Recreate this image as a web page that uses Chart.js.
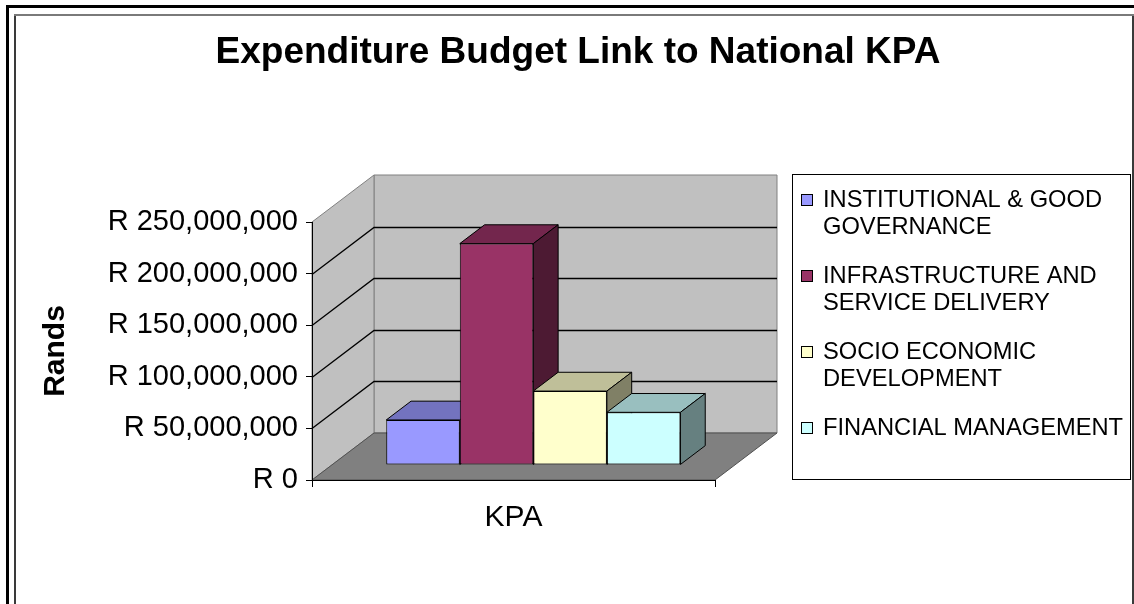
<!DOCTYPE html>
<html>
<head>
<meta charset="utf-8">
<script src="https://cdn.jsdelivr.net/npm/chart.js@4/dist/chart.umd.min.js"></script>
<style>
    html, body { margin: 0; padding: 0; background: #fff; }
</style>
</head>
<body>
<canvas id="kpaChart" width="1134" height="604"></canvas>
<script>
const chartTitle = 'Expenditure Budget Link to National KPA';
const categories = ['KPA'];
const kpaNames = [
    'INSTITUTIONAL & GOOD GOVERNANCE',
    'INFRASTRUCTURE AND SERVICE DELIVERY',
    'SOCIO ECONOMIC DEVELOPMENT',
    'FINANCIAL MANAGEMENT'
];
const kpaBudget = [43600000, 214500000, 71600000, 51000000];
const yTicks = [0, 50000000, 100000000, 150000000, 200000000, 250000000];

const barColors = ['#9999FF', '#993366', '#FFFFCC', '#CCFFFF'];
const FONT = "'Liberation Sans', Arial, sans-serif";

// depth of the 3D box and where the bars sit inside it
const DX = 62, DY = 47;
const D_FRONT = 0.32, D_BACK = 0.72;

Chart.defaults.font.family = FONT;
Chart.defaults.color = '#000';

function shade(hex, f) {
    const n = parseInt(hex.slice(1), 16);
    const r = Math.round(((n >> 16) & 255) * f);
    const g = Math.round(((n >> 8) & 255) * f);
    const b = Math.round((n & 255) * f);
    return `rgb(${r},${g},${b})`;
}

function poly(ctx, pts, fill, stroke) {
    ctx.beginPath();
    ctx.moveTo(pts[0][0], pts[0][1]);
    for (let i = 1; i < pts.length; i++) ctx.lineTo(pts[i][0], pts[i][1]);
    ctx.closePath();
    if (fill) { ctx.fillStyle = fill; ctx.fill(); }
    if (stroke) { ctx.strokeStyle = stroke; ctx.lineWidth = 1; ctx.stroke(); }
}

// walls, floor and gridlines behind everything
const wallsPlugin = {
    id: 'walls3d',
    beforeDraw(chart) {
        const ctx = chart.ctx;
        const { left, right, top, bottom } = chart.chartArea;
        const ys = chart.scales.y;
        ctx.save();
        poly(ctx, [[left + DX, top - DY], [right + DX, top - DY], [right + DX, bottom - DY], [left + DX, bottom - DY]], '#C0C0C0', '#808080');
        poly(ctx, [[left, bottom], [left, top], [left + DX, top - DY], [left + DX, bottom - DY]], '#C0C0C0', '#808080');
        poly(ctx, [[left, bottom], [right, bottom], [right + DX, bottom - DY], [left + DX, bottom - DY]], '#808080', '#505050');
        ctx.strokeStyle = '#000';
        ctx.lineWidth = 1.3;
        yTicks.slice(1, -1).forEach(v => {
            const py = Math.round(ys.getPixelForValue(v)) + 0.5;
            ctx.beginPath();
            ctx.moveTo(left, py);
            ctx.lineTo(left + DX, py - DY);
            ctx.lineTo(right + DX, py - DY);
            ctx.stroke();
        });
        ctx.restore();
    }
};

// bars as 3D boxes, left to right, using the element geometry from Chart.js
const barsPlugin = {
    id: 'bars3d',
    beforeDatasetsDraw(chart) {
        const ctx = chart.ctx;
        const fx = DX * D_FRONT, fy = -DY * D_FRONT;
        const bx = DX * D_BACK, by = -DY * D_BACK;
        ctx.save();
        ctx.lineJoin = 'round';
        chart.data.datasets.forEach((ds, i) => {
            const bar = chart.getDatasetMeta(i).data[0];
            const x0 = bar.x - bar.width / 2, x1 = bar.x + bar.width / 2;
            const yt = bar.y, yb = bar.base;
            ctx.save();
            ctx.translate(fx, fy);
            bar.draw(ctx);
            ctx.restore();
            poly(ctx, [[x0 + fx, yt + fy], [x1 + fx, yt + fy], [x1 + bx, yt + by], [x0 + bx, yt + by]], shade(ds.backgroundColor, 0.75), '#000');
            poly(ctx, [[x1 + fx, yt + fy], [x1 + bx, yt + by], [x1 + bx, yb + by], [x1 + fx, yb + fy]], shade(ds.backgroundColor, 0.5), '#000');
        });
        ctx.restore();
        return false;
    }
};

// title centred on the whole picture, not just the plot
const titlePlugin = {
    id: 'pageTitle',
    afterDraw(chart) {
        const ctx = chart.ctx;
        ctx.save();
        ctx.font = `bold 37px ${FONT}`;
        ctx.fillStyle = '#000';
        ctx.textAlign = 'center';
        ctx.textBaseline = 'middle';
        ctx.fillText(chartTitle, 578, 53);
        ctx.restore();
    }
};

// boxed legend on the right, text wrapped like the original
const legendPlugin = {
    id: 'boxLegend',
    afterDraw(chart) {
        const ctx = chart.ctx;
        const boxL = 792, boxT = 174, boxR = 1130, boxB = 479;
        ctx.save();
        ctx.strokeStyle = '#000';
        ctx.lineWidth = 1;
        ctx.strokeRect(boxL + 0.5, boxT + 0.5, boxR - boxL, boxB - boxT);
        ctx.font = `23.7px ${FONT}`;
        ctx.textBaseline = 'middle';
        ctx.fillStyle = '#000';
        const maxW = 310, lineH = 27, gap = 22;
        let cy = 200;
        chart.data.datasets.forEach(ds => {
            const words = ds.label.split(' ');
            const lines = [];
            let cur = '';
            words.forEach(w => {
                const t = cur ? cur + ' ' + w : w;
                if (ctx.measureText(t).width > maxW && cur) { lines.push(cur); cur = w; }
                else cur = t;
            });
            lines.push(cur);
            ctx.fillStyle = ds.backgroundColor;
            ctx.fillRect(801, cy - 6, 12, 12);
            ctx.strokeStyle = '#000';
            ctx.strokeRect(801.5, cy - 5.5, 11, 11);
            ctx.fillStyle = '#000';
            lines.forEach((ln, k) => ctx.fillText(ln, 823, cy + k * lineH));
            cy += lines.length * lineH + gap;
        });
        ctx.restore();
    }
};

// double frame round the chart
const framePlugin = {
    id: 'frame',
    afterDraw(chart) {
        const ctx = chart.ctx;
        ctx.save();
        ctx.fillStyle = '#000';
        ctx.fillRect(6, 5, 1128, 3);
        ctx.fillRect(6, 5, 3, 599);
        ctx.fillStyle = '#3a3a3a';
        ctx.fillRect(14, 14, 2, 590);
        ctx.fillRect(1132, 14, 2, 590);
        ctx.fillStyle = '#7a7a7a';
        ctx.fillRect(14, 14, 1120, 2);
        ctx.restore();
    }
};

new Chart(document.getElementById('kpaChart'), {
    type: 'bar',
    data: {
        labels: categories,
        datasets: kpaNames.map((name, i) => ({
            label: name,
            data: [kpaBudget[i]],
            backgroundColor: barColors[i],
            borderColor: '#000',
            borderWidth: 1,
            borderSkipped: false,
            categoryPercentage: 0.73,
            barPercentage: 1
        }))
    },
    options: {
        responsive: false,
        animation: false,
        devicePixelRatio: 1,
        layout: { padding: { left: 38, right: 419, top: 222, bottom: 0 } },
        plugins: {
            legend: { display: false },
            tooltip: { enabled: false },
            title: { display: false }
        },
        scales: {
            x: {
                grid: { drawOnChartArea: false, tickLength: 7, color: '#000' },
                border: { color: '#000', width: 1 },
                ticks: { color: '#000', font: { size: 30 }, padding: 13 },
                afterFit: axis => { axis.height = 124; }
            },
            y: {
                min: 0,
                max: 250000000,
                afterBuildTicks: axis => { axis.ticks = yTicks.map(v => ({ value: v })); },
                grid: { drawOnChartArea: false, tickLength: 6, color: '#000' },
                border: { color: '#000', width: 1 },
                ticks: {
                    color: '#000',
                    font: { size: 29 },
                    padding: 8,
                    callback: v => 'R ' + Number(v).toLocaleString('en-US')
                },
                title: { display: true, text: 'Rands', color: '#000', font: { size: 30, weight: 'bold' }, padding: 0 },
                afterFit: axis => { axis.width = 274; }
            }
        }
    },
    plugins: [wallsPlugin, barsPlugin, titlePlugin, legendPlugin, framePlugin]
});
</script>
</body>
</html>
